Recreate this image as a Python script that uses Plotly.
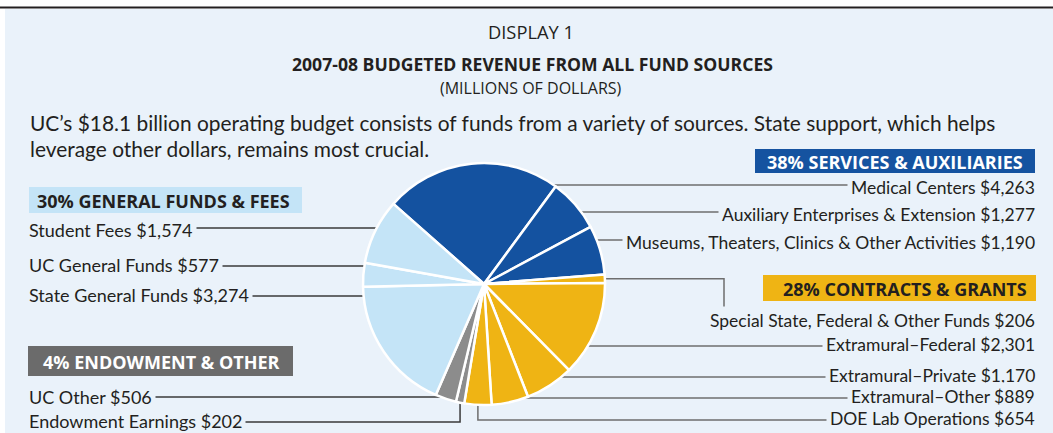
import math
import plotly.graph_objects as go

W, H = 1053, 433

# ---------------- data ----------------
slice_names = [
    "Medical Centers",
    "Auxiliary Enterprises & Extension",
    "Museums, Theaters, Clinics & Other Activities",
    "Special State, Federal & Other Funds",
    "Extramural–Federal",
    "Extramural–Private",
    "Extramural–Other",
    "DOE Lab Operations",
    "Endowment Earnings",
    "UC Other",
    "State General Funds",
    "UC General Funds",
    "Student Fees",
]
slice_values = [4263, 1277, 1190, 206, 2301, 1170, 889, 654, 202, 506, 3274, 577, 1574]
slice_groups = ["services", "services", "services",
                "contracts", "contracts", "contracts", "contracts", "contracts",
                "endowment", "endowment",
                "general", "general", "general"]

group_titles = {
    "general": "30% GENERAL FUNDS & FEES",
    "services": "38% SERVICES & AUXILIARIES",
    "contracts": "28% CONTRACTS & GRANTS",
    "endowment": "4% ENDOWMENT & OTHER",
}

display_label = "DISPLAY 1"
title_text = "2007-08 BUDGETED REVENUE FROM ALL FUND SOURCES"
subtitle_text = "(MILLIONS OF DOLLARS)"
para_lines = [
    "UC’s $18.1 billion operating budget consists of funds from a variety of sources. State support, which helps",
    "leverage other dollars, remains most crucial.",
]

# ---------------- styles / layout ----------------
BG = "#eaf2fa"
TXT = "#231f20"
FONT = "Lato"
HFONT = "Open Sans"
group_colors = {"services": "#1452a0", "contracts": "#efb414",
                "endowment": "#8c8c8c", "general": "#c4e4f7"}
box_text_colors = {"services": "white", "contracts": TXT,
                   "endowment": "white", "general": TXT}
box_fill = {"services": "#1553a0", "contracts": "#efb414",
            "endowment": "#6b6b6b", "general": "#c4e4f7"}
# box rectangles (pixels): x0, x1, y0, y1, text anchor x, anchor side
box_geom = {
    "general": (29, 302, 187, 213, 35, "left"),
    "endowment": (28, 293, 346, 376, 41, "left"),
    "services": (755, 1035, 149, 173, 1025, "right"),
    "contracts": (763, 1036, 275, 301, 1029, "right"),
}
BOX_FONT_SIZE = 18

CX, CY, R = 484, 284, 121
ROT = -48.5

# label placement per slice: side, text y, line y, mode
label_layout = [
    ("right", 187, 185, "h"),
    ("right", 214, 212, "h"),
    ("right", 242, 240, "h"),
    ("right", 320, 308, "special"),
    ("right", 344, 346, "h"),
    ("right", 375, 377, "h"),
    ("right", 396, 398, "h"),
    ("right", 418, 420, "down"),
    ("left", 421, 422, "down"),
    ("left", 397, 397, "h"),
    ("left", 295, 296, "h"),
    ("left", 265, 266, "h"),
    ("left", 230, 228, "h"),
]
LEFT_X = 24.5
RIGHT_X = 1039
SPECIAL_BEND_X = 724
line_colors = {"left": "#3a3a3a", "right": "#6e6e6e"}
label_sizes = {"left": 18, "right": 17.5}


def px(x):
    return x / W


def py(y):
    return 1 - y / H


fig = go.Figure()

fig.add_trace(go.Pie(
    labels=slice_names,
    values=slice_values,
    sort=False,
    direction="clockwise",
    rotation=ROT,
    textinfo="none",
    hoverinfo="label+value",
    showlegend=False,
    marker=dict(colors=[group_colors[g] for g in slice_groups],
                line=dict(color="white", width=2.5)),
    domain=dict(x=[px(CX - R), px(CX + R)], y=[py(CY + R), py(CY - R)]),
))

shapes = []
annotations = []

# background panel + top rule
shapes.append(dict(type="rect", xref="paper", yref="paper", layer="below",
                   x0=px(5), x1=px(W), y0=py(H), y1=py(9),
                   fillcolor=BG, line=dict(width=0)))
shapes.append(dict(type="line", xref="paper", yref="paper", layer="below",
                   x0=0, x1=1, y0=py(7.5), y1=py(7.5),
                   line=dict(color=TXT, width=2)))

# slice mid-angles from the data (clockwise from 12 o'clock)
total = sum(slice_values)
mids = []
acc = ROT
for v in slice_values:
    span = v / total * 360
    mids.append(acc + span / 2)
    acc += span


def edge_point(angle_deg):
    a = math.radians(angle_deg)
    return CX + R * math.sin(a), CY - R * math.cos(a)


def edge_x_at(y, side):
    d = math.sqrt(max(R * R - (y - CY) ** 2, 0))
    return CX + d if side == "right" else CX - d


for i, (name, val) in enumerate(zip(slice_names, slice_values)):
    side, ty, ly, mode = label_layout[i]
    col = line_colors[side]
    end_x = RIGHT_X - 6 if side == "right" else LEFT_X + 6
    if mode == "h":
        sx = edge_x_at(ly, side)
        path = f"M{px(sx)},{py(ly)} L{px(end_x)},{py(ly)}"
    elif mode == "down":
        ex, ey = edge_point(mids[i])
        path = f"M{px(ex)},{py(ey)} L{px(ex)},{py(ly)} L{px(end_x)},{py(ly)}"
    else:  # special: horizontal out, then down toward the label
        ex, ey = edge_point(mids[i])
        path = (f"M{px(ex)},{py(ey)} L{px(SPECIAL_BEND_X)},{py(ey)} "
                f"L{px(SPECIAL_BEND_X)},{py(ly)}")
    shapes.append(dict(type="path", xref="paper", yref="paper", layer="below",
                       path=path, line=dict(color=col, width=1.5)))
    annotations.append(dict(
        xref="paper", yref="paper",
        x=px(RIGHT_X if side == "right" else LEFT_X), y=py(ty),
        xanchor="right" if side == "right" else "left", yanchor="middle",
        text=f"{name} ${val:,}", showarrow=False,
        font=dict(family=FONT, size=label_sizes[side], color=TXT),
        bgcolor=BG, borderpad=3,
    ))

# category boxes
for g, (x0, x1, y0, y1, tx, anchor) in box_geom.items():
    shapes.append(dict(type="rect", xref="paper", yref="paper", layer="below",
                       x0=px(x0), x1=px(x1), y0=py(y1), y1=py(y0),
                       fillcolor=box_fill[g], line=dict(width=0)))
    annotations.append(dict(
        xref="paper", yref="paper", x=px(tx), y=py((y0 + y1) / 2 + 0.5),
        xanchor=anchor, yanchor="middle", showarrow=False,
        text=f"<b>{group_titles[g]}</b>",
        font=dict(family=HFONT, size=BOX_FONT_SIZE, color=box_text_colors[g]),
    ))

# titles and paragraph
annotations.append(dict(xref="paper", yref="paper", x=px(531), y=py(32),
                        xanchor="center", yanchor="middle", showarrow=False,
                        text=display_label,
                        font=dict(family=HFONT, size=18.3, color=TXT)))
annotations.append(dict(xref="paper", yref="paper", x=px(532), y=py(64),
                        xanchor="center", yanchor="middle", showarrow=False,
                        text=f"<b>{title_text}</b>",
                        font=dict(family=HFONT, size=17.6, color=TXT)))
annotations.append(dict(xref="paper", yref="paper", x=px(531), y=py(88.5),
                        xanchor="center", yanchor="middle", showarrow=False,
                        text=subtitle_text,
                        font=dict(family=HFONT, size=16, color=TXT)))
for j, (line_txt, yy) in enumerate(zip(para_lines, [122, 149])):
    annotations.append(dict(xref="paper", yref="paper", x=px(28), y=py(yy),
                            xanchor="left", yanchor="middle", showarrow=False,
                            text=line_txt,
                            font=dict(family=FONT, size=20.9, color=TXT)))

fig.update_layout(
    width=W, height=H,
    margin=dict(l=0, r=0, t=0, b=0),
    paper_bgcolor="white",
    plot_bgcolor="rgba(0,0,0,0)",
    shapes=shapes,
    annotations=annotations,
    showlegend=False,
)

fig.write_html(
    "out.html",
    config={"displayModeBar": False},
    post_script="document.body.style.margin='0';document.body.style.overflow='hidden';",
)
